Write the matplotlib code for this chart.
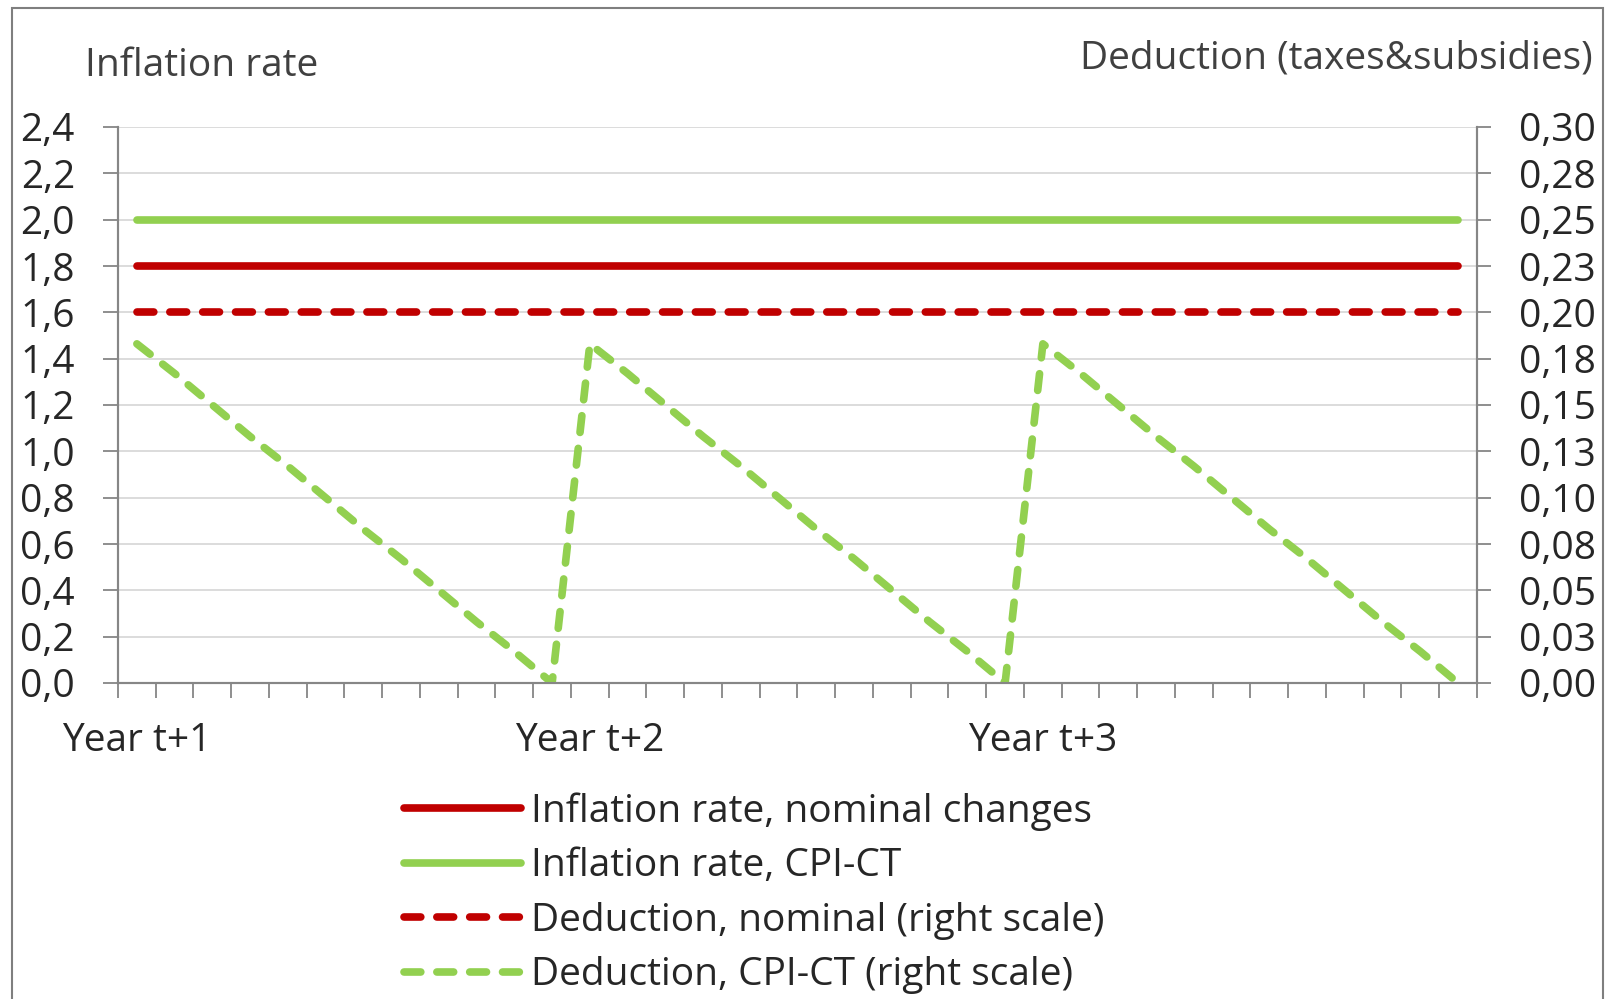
import numpy as np
import matplotlib.pyplot as plt
from matplotlib.patches import Rectangle

# monthly data over three years
months = np.arange(1, 37)
year_labels = ['Year t+1', 'Year t+2', 'Year t+3']
year_positions = [1, 13, 25]

infl_nominal = [1.8] * 36
infl_cpict = [2.0] * 36
ded_nominal = [0.20] * 36
ded_cpict = [0.183, 0.167, 0.150, 0.133, 0.117, 0.100, 0.083, 0.067, 0.050, 0.033, 0.017, 0.000,
             0.183, 0.167, 0.150, 0.133, 0.117, 0.100, 0.083, 0.067, 0.050, 0.033, 0.017, 0.000,
             0.183, 0.167, 0.150, 0.133, 0.117, 0.100, 0.083, 0.067, 0.050, 0.033, 0.017, 0.000]

left_ticks = [0.0, 0.2, 0.4, 0.6, 0.8, 1.0, 1.2, 1.4, 1.6, 1.8, 2.0, 2.2, 2.4]
left_labels = ['0,0', '0,2', '0,4', '0,6', '0,8', '1,0', '1,2', '1,4', '1,6', '1,8', '2,0', '2,2', '2,4']
right_ticks = [0.0, 0.025, 0.05, 0.075, 0.10, 0.125, 0.15, 0.175, 0.20, 0.225, 0.25, 0.275, 0.30]
right_labels = ['0,00', '0,03', '0,05', '0,08', '0,10', '0,13', '0,15', '0,18', '0,20', '0,23',
                '0,25', '0,28', '0,30']

red = '#C00000'
green = '#92D050'
txt = '#262626'
spine = '#868686'

plt.rcParams['font.family'] = ['Open Sans', 'DejaVu Sans']
fs = 28

W, H = 1606, 999
fig = plt.figure(figsize=(W / 100, H / 100), dpi=100)
fig.patches.append(Rectangle((12 / W, -0.01), (1603 - 12) / W, 1 - 8 / H + 0.01,
                             transform=fig.transFigure, fill=False, edgecolor='#7f7f7f', lw=1.5))

ax = fig.add_axes([118 / W, 1 - 683 / H, (1477 - 118) / W, (683 - 127) / H])
ax2 = ax.twinx()

lw = 5.5
dash = (2.2, 2.1)
l1, = ax.plot(months, infl_nominal, color=red, lw=lw, solid_capstyle='round')
l2, = ax.plot(months, infl_cpict, color=green, lw=lw, solid_capstyle='round')
l3, = ax2.plot(months, ded_nominal, color=red, lw=lw, dashes=dash, dash_capstyle='round')
l4, = ax2.plot(months, ded_cpict, color=green, lw=lw, dashes=dash, dash_capstyle='round')

ax.set_xlim(0.5, 36.5)
ax.set_ylim(0, 2.4)
ax2.set_ylim(0, 0.30)

ax.set_yticks(left_ticks)
ax.set_yticklabels(left_labels)
ax2.set_yticks(right_ticks)
ax2.set_yticklabels(right_labels)

ax.set_xticks(year_positions)
ax.set_xticklabels(year_labels)
ax.set_xticks(np.arange(0.5, 37, 1), minor=True)
ax.tick_params(axis='x', which='major', length=0, pad=28, labelsize=fs, labelcolor=txt)
ax.tick_params(axis='x', which='minor', length=11, width=1.3, color=spine, direction='out')
ax.tick_params(axis='y', length=11, width=1.3, color=spine, pad=20, labelsize=fs, labelcolor=txt)
ax2.tick_params(axis='y', length=10, width=1.3, color=spine, pad=20, labelsize=fs, labelcolor=txt)

ax.grid(axis='y', color='#D9D9D9', lw=1.3)
ax.set_axisbelow(True)
for a in (ax, ax2):
    a.spines['top'].set_visible(False)
    for s in ('left', 'right', 'bottom'):
        a.spines[s].set_color(spine)
        a.spines[s].set_linewidth(1.5)

fig.text(85 / W, 1 - 66 / H, 'Inflation rate', fontsize=fs, color='#404040', va='center', ha='left')
fig.text(1593 / W, 1 - 59 / H, 'Deduction (taxes&subsidies)', fontsize=fs, color='#404040',
         va='center', ha='right')

fig.legend([l1, l2, l3, l4],
           ['Inflation rate, nominal changes', 'Inflation rate, CPI-CT',
            'Deduction, nominal (right scale)', 'Deduction, CPI-CT (right scale)'],
           loc='upper left', bbox_to_anchor=(404 / W, 1 - 792 / H), frameon=False,
           fontsize=fs, handlelength=3.0, handletextpad=0.26, labelspacing=0.425,
           borderpad=0, borderaxespad=0, labelcolor=txt)

fig.savefig('out.png', dpi=100)
